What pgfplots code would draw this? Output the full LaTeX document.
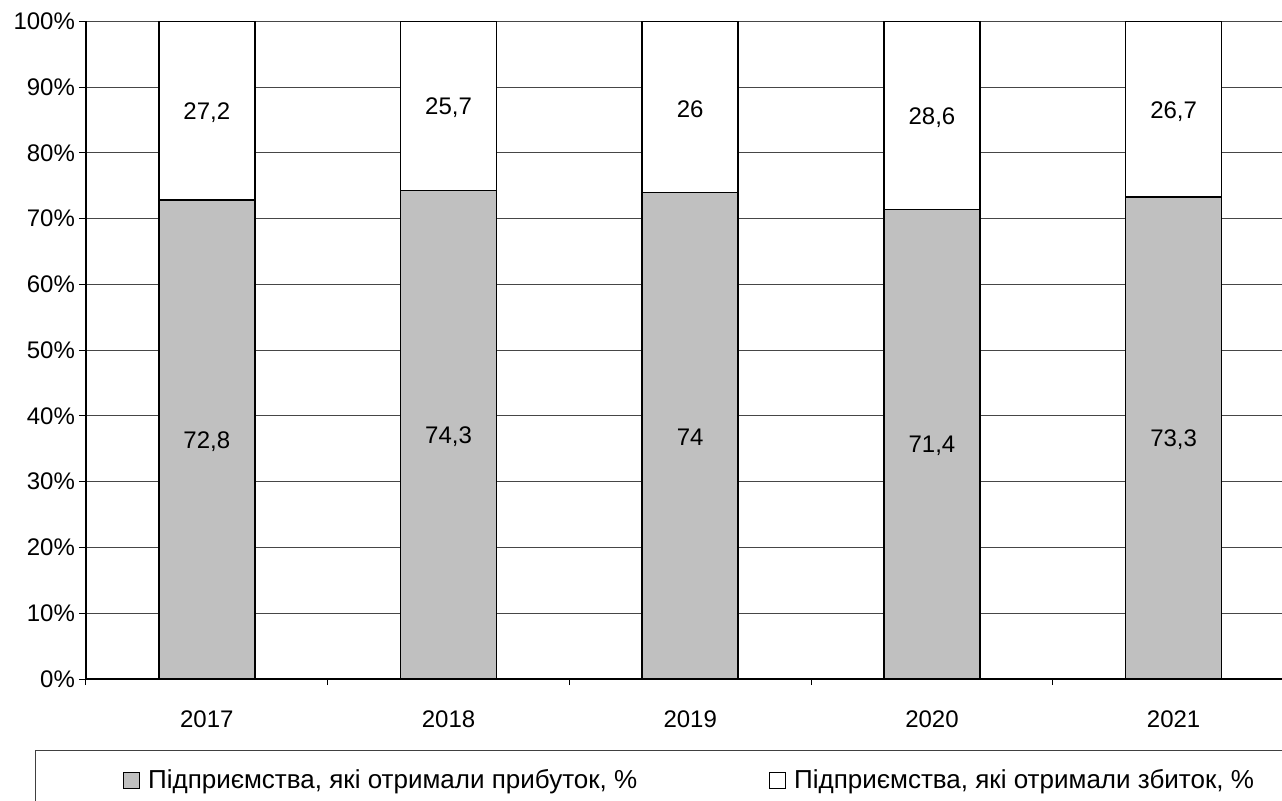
\documentclass[border=0pt]{standalone}
\usepackage{fontspec}
\setmainfont{Liberation Sans}
\usepackage{pgfplots}
\pgfplotsset{compat=1.18}

\definecolor{barfill}{RGB}{192,192,192}
\definecolor{gridgray}{RGB}{70,70,70}

\begin{document}
\begin{tikzpicture}[font=\fontsize{12}{14}\selectfont]
  % page = 641pt x 400pt, axis box lower left at (0,0)
  \useasboundingbox (-43pt,-60.5pt) rectangle (598pt,339.5pt);

  \begin{axis}[
      at={(0,0)}, anchor=south west,
      scale only axis, width=604.25pt, height=328.8pt,
      ybar stacked, bar width=48pt,
      xmin=-0.5, xmax=4.5, ymin=0, ymax=100,
      axis x line*=bottom, axis y line*=left,
      axis line style={line width=0.6pt},
      tick align=outside,
      xtick={0,1,2,3,4},
      xticklabels={2017,2018,2019,2020,2021},
      minor xtick={-0.5,0.5,1.5,2.5,3.5,4.5},
      major x tick style={draw=none},
      minor tick length=3pt, major tick length=3.5pt,
      tick style={black, line width=0.5pt},
      ytick={0,10,20,30,40,50,60,70,80,90,100},
      yticklabels={0\%,10\%,20\%,30\%,40\%,50\%,60\%,70\%,80\%,90\%,100\%},
      xticklabel style={yshift=-9pt},
      yticklabel style={xshift=1.5pt},
      ymajorgrids, grid style={gridgray, line width=0.5pt},
      /pgf/number format/assume math mode=true,
      legend columns=2,
      legend cell align=left,
      legend image code/.code={\draw[#1, line width=0.5pt] (0pt,-4pt) rectangle (8pt,4pt);},
      legend style={at={(0.0304,-0.154)}, anchor=west, draw=none, fill=none,
        inner sep=0pt, font=\fontsize{13}{15}\selectfont,
        nodes={inner xsep=0pt, inner ysep=2pt},
        /tikz/every odd column/.style={column sep=4pt},
        /tikz/every even column/.style={column sep=66pt}},
    ]
    \addplot[fill=barfill, draw=black, line width=0.8pt]
      coordinates {(0,72.8) (1,74.3) (2,74) (3,71.4) (4,73.3)};
    \addlegendentry{Підприємства, які отримали прибуток, \%}
    \addplot[fill=white, draw=black, line width=0.8pt]
      coordinates {(0,27.2) (1,25.7) (2,26) (3,28.6) (4,26.7)};
    \addlegendentry{Підприємства, які отримали збиток, \%}
  \end{axis}

  % value labels, centred in each segment
  \begin{axis}[
      at={(0,0)}, anchor=south west,
      scale only axis, width=604.25pt, height=328.8pt,
      xmin=-0.5, xmax=4.5, ymin=0, ymax=100,
      hide axis,
    ]
    \addplot[draw=none, mark=none, nodes near coords, point meta=explicit symbolic,
      nodes near coords align={center},
      every node near coord/.append style={anchor=center, yshift=-1pt,
        font=\fontsize{12}{14}\selectfont}]
      table[meta=lab] {
        x y lab
        0 36.4 72,8
        1 37.15 74,3
        2 37.0 74
        3 35.7 71,4
        4 36.65 73,3
        0 86.4 27,2
        1 87.15 25,7
        2 87.0 26
        3 85.7 28,6
        4 86.65 26,7
      };
  \end{axis}

  % legend frame, running off the page as in the reference
  \draw[black!75, line width=0.5pt] (-25pt,-35.5pt) rectangle (700pt,-120pt);
\end{tikzpicture}
\end{document}
